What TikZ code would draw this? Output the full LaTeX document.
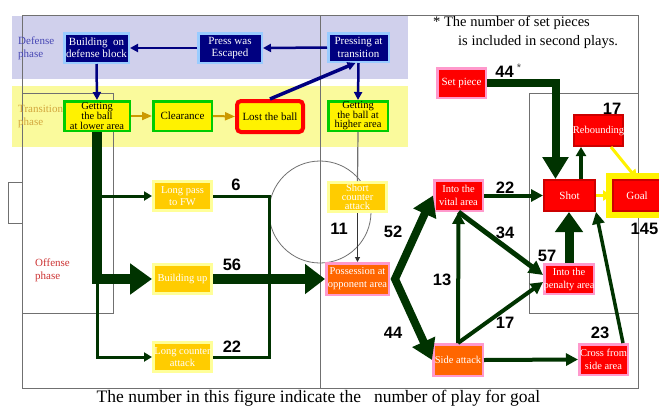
\documentclass[tikz,border=0pt]{standalone}
\usepackage{fontspec}
\setmainfont{Liberation Serif}
\newfontfamily\numfont{Liberation Sans}
\usetikzlibrary{arrows.meta,calc}
\definecolor{navyc}{HTML}{000080}
\definecolor{lblue}{HTML}{99CCFF}
\definecolor{gbord}{HTML}{00CC00}
\definecolor{goldc}{HTML}{FFCC00}
\definecolor{paley}{HTML}{FFFF99}
\definecolor{orng}{HTML}{FF6600}
\definecolor{pinkb}{HTML}{FF99CC}
\definecolor{redc}{HTML}{FF0000}
\definecolor{dred}{HTML}{CC0000}
\definecolor{dg}{HTML}{003300}
\definecolor{goldline}{HTML}{CC9900}
\definecolor{lav}{HTML}{D0D0EC}
\definecolor{lyel}{HTML}{FAFA9C}
\definecolor{fieldc}{HTML}{707070}
\definecolor{defc}{HTML}{4646B4}
\definecolor{transc}{HTML}{D2A53C}
\definecolor{offc}{HTML}{CC3333}
\tikzset{
 box/.style={draw, inner xsep=-7pt, inner ysep=0pt, align=center},
 navyb/.style={box, fill=navyc, draw=lblue, line width=2.5pt, text=white, font=\fontsize{11}{12.3}\selectfont},
 yelb/.style={box, fill=yellow, draw=gbord, line width=2.5pt, text=black, font=\fontsize{10.5}{9.6}\selectfont},
 lostb/.style={box, fill=yellow, draw=redc, line width=4pt, rounded corners=4pt, text=black, font=\fontsize{11}{12}\selectfont},
 goldb/.style={box, fill=goldc, draw=paley, line width=3pt, text=white, font=\fontsize{10.5}{12.5}\selectfont},
 orb/.style={box, fill=orng, draw=pinkb, line width=2.5pt, text=white, font=\fontsize{10.5}{13}\selectfont},
 redpb/.style={box, fill=redc, draw=pinkb, line width=2.5pt, text=white, font=\fontsize{10.5}{13}\selectfont},
 reddb/.style={box, fill=redc, draw=dred, line width=2pt, text=white, font=\fontsize{11}{13}\selectfont},
 fieldline/.style={draw=fieldc, line width=0.8pt},
 navyl/.style={draw=navyc, line width=2.5pt, -{Triangle[length=8pt,width=8pt]}},
 goldl/.style={draw=goldline, line width=2pt, -{Triangle[length=10pt,width=8pt]}},
 thinl/.style={draw=dg, line width=3pt},
 thinarr/.style={thinl, -{Triangle[length=8pt,width=9pt]}},
 medarr/.style={draw=dg, line width=4pt, -{Triangle[length=12pt,width=12pt]}},
 yell/.style={draw=yellow, line width=3pt, -{Triangle[length=9pt,width=10pt]}},
 num/.style={font=\numfont\bfseries\fontsize{16.5}{18}\selectfont, inner sep=0pt},
 phase/.style={align=left, inner sep=0pt, anchor=west, font=\fontsize{11}{13}\selectfont},
}
\begin{document}
\begin{tikzpicture}[x=1pt,y=-1pt]
\useasboundingbox (0,0) rectangle (659,408);
% bands
\fill[lav] (12,16) rectangle (408,79);
\fill[lyel] (12,86) rectangle (408,147);
% field
\draw[fieldline] (22,15) rectangle (638,388);
\draw[fieldline] (320,15) -- (320,388);
\draw[fieldline] (320,212) circle[radius=51];
\draw[fieldline] (22,93) rectangle (113,313);
\draw[fieldline] (529,93) rectangle (638,313);
\draw[fieldline] (8,182) rectangle (22,223);
% phase labels
\node[phase, text=defc] (ldef) at (18,48.5) {Defense\\phase};
\node[phase, text=transc] (ltr) at (18,117) {Transition\\phase};
\node[phase, text=offc] (loff) at (35,270) {Offense\\phase};
% nodes
\node[navyb, minimum width=64.5pt, minimum height=29.5pt] (bdb) at (96.5,48) {Building\ \ on\\defense block};
\node[navyb, minimum width=63.5pt, minimum height=29.5pt] (pwe) at (230,48) {Press was\\Escaped};
\node[navyb, minimum width=60.5pt, minimum height=28.5pt] (pat) at (358.5,47.5) {Pressing at\\transition};
\node[yelb, minimum width=65.5pt, minimum height=29.5pt] (glow) at (97,116) {Getting\\the ball\\at lower area};
\node[yelb, minimum width=58.5pt, minimum height=29.5pt, font=\fontsize{11}{12}\selectfont] (clr) at (182.5,116) {Clearance};
\node[lostb, minimum width=66pt, minimum height=31pt] (lost) at (270,116.5) {Lost the ball};
\node[yelb, minimum width=59.5pt, minimum height=29.5pt] (ghigh) at (358,116) {Getting\\the ball at\\higher area};
\node[goldb, minimum width=58pt, minimum height=29pt] (lp) at (182.5,196) {Long pass\\to FW};
\node[goldb, minimum width=58pt, minimum height=29pt] (bu) at (182.5,279) {Building up};
\node[goldb, minimum width=58pt, minimum height=29pt] (lc) at (182.5,357) {Long counter\\attack};
\node[goldb, minimum width=58pt, minimum height=29pt, font=\fontsize{10.5}{9}\selectfont] (sc) at (357.5,197) {Short\\counter\\attack};
\node[orb, minimum width=62.5pt, minimum height=31.5pt] (poss) at (357.5,279) {Possession at\\opponent area};
\node[redpb, minimum width=48.5pt, minimum height=30.5pt] (vital) at (458.5,195.5) {Into the\\vital area};
\node[orb, minimum width=49.5pt, minimum height=31.5pt] (side) at (458,360) {Side attack};
\node[reddb, minimum width=51pt, minimum height=31pt] (shot) at (569.5,195.5) {Shot};
\node[reddb, minimum width=48pt, minimum height=31pt] (goal) at (637,195.5) {Goal};
\node[reddb, minimum width=49pt, minimum height=31pt, font=\fontsize{10.5}{13}\selectfont] (reb) at (598.5,130.5) {Rebounding};
\node[redpb, minimum width=48.5pt, minimum height=29.5pt, font=\fontsize{11}{13}\selectfont] (setp) at (461.5,83) {Set piece};
\node[redpb, minimum width=49.5pt, minimum height=29.5pt] (pen) at (569,279) {Into the\\penalty area};
\node[redpb, minimum width=48.5pt, minimum height=30.5pt] (cross) at (603.5,359.5) {Cross from\\side area};
\draw[yellow, line width=6pt] ($(goal.north west)+(-3,-3)$) rectangle ($(goal.south east)+(3,3)$);
% defense / transition connectors
\draw[navyl] (pwe.west) -- (bdb.east);
\draw[navyl] (pat.west) -- (pwe.east);
\draw[navyl] (bdb.south) -- (glow.north);
\draw[navyl] (pat.south) -- (ghigh.north);
\draw[navyl, line width=3.5pt] (lost.north) -- ([xshift=-3pt]pat.south);
\draw[goldl] (glow.east) -- (clr.west);
\draw[goldl] (clr.east) -- (lost.west);
\draw[draw=fieldc, line width=1.2pt] (ghigh.south) -- (sc.north);
\draw[draw=black!80, line width=1pt, -{Triangle[length=5pt,width=5pt]}] (sc.south) -- (poss.north);
% offense connectors
\draw[thinarr] (glow.south |- lp.west) -- (lp.west);
\draw[thinarr] (glow.south |- bu.west) |- (lc.west);
\draw[draw=dg, line width=10pt, -{Triangle[length=22pt,width=30pt]}] (glow.south) |- (bu.west);
\coordinate (mj) at (269,279);
\draw[thinl] (lp.east) -| (mj);
\draw[thinl] (lc.east) -| (mj);
\draw[draw=dg, line width=10pt, -{Triangle[length=20pt,width=29pt]}] (bu.east) -- (poss.west);
\coordinate (pv) at (395,279);
\draw[draw=dg, line width=8pt, {Triangle[length=20pt,width=24pt]}-{Triangle[length=20pt,width=24pt]}] (vital.west) -- (pv) -- (side.west);
\draw[medarr] (vital.east) -- (shot.west);
\draw[medarr, line width=5pt, -{Triangle[length=14pt,width=14pt]}] (vital.south) -- ([yshift=4pt]pen.west);
\draw[medarr] (side.north) -- (vital.south);
\draw[medarr] (side.north) -- ([yshift=-3pt]pen.west);
\draw[medarr] (side.east) -- (cross.west);
\draw[medarr, line width=3.5pt] ([xshift=-6pt]cross.north east) -- (shot.south east);
\draw[draw=dg, line width=9pt, -{Triangle[length=20pt,width=27pt]}] (pen.north) -- (pen.north |- shot.south);
\draw[draw=dg, line width=8pt, -{Triangle[length=22pt,width=25pt]}] (setp.east) -| ([xshift=-14pt]shot.north);
\draw[draw=dg, line width=3.5pt, -{Triangle[length=9pt,width=10pt]}] ([xshift=11.5pt]shot.north) -- ([xshift=11.5pt]shot.north |- reb.south);
\draw[yell] ([xshift=12.5pt]reb.south) -- (goal.north);
\draw[yell] (shot.east) -- (goal.west);
% numbers
\node[num] (n6) at (236,185) {6};
\node[num] (n56) at (232,265) {56};
\node[num] (n22a) at (232,347) {22};
\node[num] (n11) at (339,228.5) {11};
\node[num] (n52) at (393,232) {52};
\node[num] (n44) at (393,333) {44};
\node[num] (n22b) at (505,187.5) {22};
\node[num] (n34) at (505,233) {34};
\node[num] (n13) at (442,279.5) {13};
\node[num] (n17a) at (505,323) {17};
\node[num] (n57) at (547,256) {57};
\node[num] (n23) at (600,332.5) {23};
\node[num] (n17b) at (612,109) {17};
\node[num] (n145) at (644.5,228.5) {145};
\node[num] (n44s) at (504.5,72) {44};
\node[font=\numfont\fontsize{11}{11}\selectfont, inner sep=0pt, text=black!75] (star) at (519,68) {*};
% notes
\node[anchor=west, inner sep=0pt, font=\fontsize{14.5}{16}\selectfont] (note1) at (433,23) {* The number of set pieces};
\node[anchor=west, inner sep=0pt, font=\fontsize{14.5}{16}\selectfont] (note2) at (458,42) {is included in second plays.};
\node[inner sep=0pt, font=\fontsize{17.5}{19}\selectfont] (cap) at (318.5,398.5) {The number in this figure indicate the\hspace{13pt}number of play for goal};
\end{tikzpicture}
\end{document}
